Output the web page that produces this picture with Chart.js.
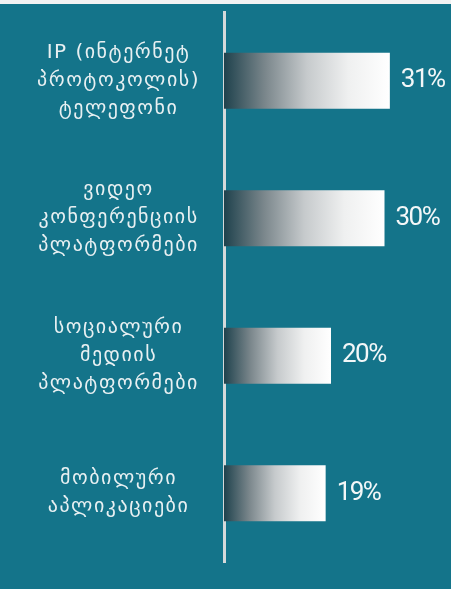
<!DOCTYPE html>
<html>
<head>
<meta charset="utf-8">
<script src="https://cdn.jsdelivr.net/npm/chart.js@4"></script>
<style>
  html, body { margin: 0; padding: 0; background: #f2f2f2; }
  .wrap { position: absolute; left: 0; top: 4px; width: 451px; height: 585px; background: #14748a; }
</style>
</head>
<body>
<div class="wrap"><canvas id="share-chart" width="451" height="585"></canvas></div>
<script>
// categories, top to bottom
const categories = [
    ['IP (ინტერნეტ', 'პროტოკოლის)', 'ტელეფონი'],
    ['ვიდეო', 'კონფერენციის', 'პლატფორმები'],
    ['სოციალური', 'მედიის', 'პლატფორმები'],
    ['მობილური', 'აპლიკაციები']
];
const shares = [31, 30, 20, 19];
const xMax = 40;

function barGradient(context) {
    const chart = context.chart;
    if (!chart.chartArea || context.parsed === undefined) return '#ffffff';
    const x = chart.scales.x;
    const x0 = x.getPixelForValue(0);
    const x1 = x.getPixelForValue(context.parsed.x);
    const g = chart.ctx.createLinearGradient(x0, 0, x1, 0);
    g.addColorStop(0, '#1f424d');
    g.addColorStop(0.25, '#7b878c');
    g.addColorStop(0.5, '#c6cacc');
    g.addColorStop(0.75, '#eff0f0');
    g.addColorStop(1, '#ffffff');
    return g;
}

// wider letter spacing for the georgian labels
const spacing = {
    id: 'spacing',
    beforeUpdate(chart) { chart.ctx.letterSpacing = '1.5px'; },
    beforeDraw(chart) { chart.ctx.letterSpacing = '1.5px'; }
};

// percent text to the right of each bar
const valueLabels = {
    id: 'valueLabels',
    afterDatasetsDraw(chart) {
        const ctx = chart.ctx;
        const meta = chart.getDatasetMeta(0);
        ctx.save();
        ctx.letterSpacing = '-1.5px';
        ctx.fillStyle = '#f3f7f8';
        ctx.font = '26px Roboto';
        ctx.textAlign = 'left';
        ctx.textBaseline = 'middle';
        meta.data.forEach((bar, i) => {
            ctx.fillText(shares[i] + '%', bar.x + 11, bar.y);
        });
        ctx.restore();
    }
};

new Chart(document.getElementById('share-chart'), {
    type: 'bar',
    data: {
        labels: categories,
        datasets: [{
            data: shares,
            backgroundColor: barGradient,
            borderWidth: 0,
            categoryPercentage: 1,
            barPercentage: 0.407
        }]
    },
    options: {
        indexAxis: 'y',
        responsive: false,
        animation: false,
        layout: { autoPadding: false, padding: { top: 8, bottom: 27, right: 13, left: 0 } },
        plugins: { legend: { display: false }, tooltip: { enabled: false } },
        scales: {
            x: { display: false, min: 0, max: xMax },
            y: {
                afterFit(scale) {
                    scale.width = 224;
                    scale.paddingTop = 0;
                    scale.paddingBottom = 0;
                },
                grid: { display: false, drawTicks: false },
                border: { display: true, color: '#d5d9da', width: 3 },
                ticks: {
                    color: '#e8f0f2',
                    crossAlign: 'center',
                    padding: 24,
                    font: { family: 'DejaVu Sans', size: 20, lineHeight: 1.4 }
                }
            }
        }
    },
    plugins: [spacing, valueLabels]
});
</script>
</body>
</html>
